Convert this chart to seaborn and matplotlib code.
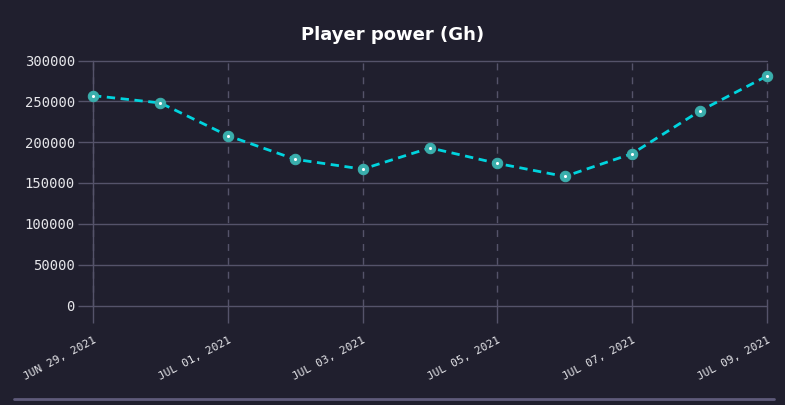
import matplotlib
matplotlib.use("Agg")
import matplotlib.pyplot as plt
from matplotlib.lines import Line2D
import seaborn as sns
import pandas as pd

dates = ["2021-06-29", "2021-06-30", "2021-07-01", "2021-07-02", "2021-07-03", "2021-07-04",
         "2021-07-05", "2021-07-06", "2021-07-07", "2021-07-08", "2021-07-09"]
power = [257000, 248000, 208000, 179000, 167000, 193000, 174000, 158000, 186000, 238000, 281000]
tick_dates = ["2021-06-29", "2021-07-01", "2021-07-03", "2021-07-05", "2021-07-07", "2021-07-09"]
tick_labels = ["JUN 29, 2021", "JUL 01, 2021", "JUL 03, 2021", "JUL 05, 2021", "JUL 07, 2021", "JUL 09, 2021"]
y_ticks = [0, 50000, 100000, 150000, 200000, 250000, 300000]

bg = "#201f2e"
grid_col = "#55536a"
text_col = "#e6e6ea"

sns.set_theme(style="dark")
plt.rcParams["font.family"] = ["DejaVu Sans Mono", "DejaVu Sans"]

df = pd.DataFrame({"date": pd.to_datetime(dates), "power": power})

fig = plt.figure(figsize=(7.85, 4.05), dpi=100, facecolor=bg)
ax = fig.add_axes([93 / 785, 1 - 305.5 / 405, 674 / 785, 245 / 405])
ax.set_facecolor(bg)

sns.lineplot(data=df, x="date", y="power", ax=ax, color="#00d4de", lw=2,
             linestyle=(0, (3, 2)), marker="o", markersize=7.5,
             markerfacecolor="#3aaeac", markeredgecolor="#3aaeac", zorder=3,
             clip_on=False)
sns.scatterplot(data=df, x="date", y="power", ax=ax, color="white", s=5,
                linewidth=0, zorder=4, clip_on=False)

ax.set_xlim(pd.Timestamp(dates[0]), pd.Timestamp(dates[-1]))
ax.set_ylim(0, 300000)
ax.set_yticks(y_ticks)
ax.set_yticklabels([str(v) for v in y_ticks], fontsize=10, color=text_col)
ax.set_xticks(pd.to_datetime(tick_dates))
ax.set_xticklabels(tick_labels, fontsize=8, color=text_col, rotation=28,
                   ha="right", rotation_mode="anchor")

ax.grid(axis="y", color=grid_col, lw=1, linestyle="-")
ax.grid(axis="x", color=grid_col, lw=1, linestyle=(0, (5, 5)))
for gl in ax.get_xgridlines() + ax.get_ygridlines():
    gl.set_clip_on(False)
ax.tick_params(axis="x", bottom=True, length=12, color=grid_col, width=1, pad=9)
ax.tick_params(axis="y", left=True, length=11, color=grid_col, width=1, pad=2)

for side in ["top", "right", "bottom"]:
    ax.spines[side].set_visible(False)
ax.spines["left"].set_color(grid_col)
ax.spines["left"].set_linewidth(1)
ax.spines["left"].set_zorder(2.5)

ax.set_xlabel("")
ax.set_ylabel("")

fig.text(0.5, 1 - 35 / 405, "Player power (Gh)", ha="center", va="center",
         fontsize=13, fontweight="bold", color="white", family="DejaVu Sans")

fig.add_artist(Line2D([14 / 785, 774 / 785], [6 / 405, 6 / 405], color="#5e5a7a", lw=2))

fig.savefig("out.png", dpi=100, facecolor=bg)
